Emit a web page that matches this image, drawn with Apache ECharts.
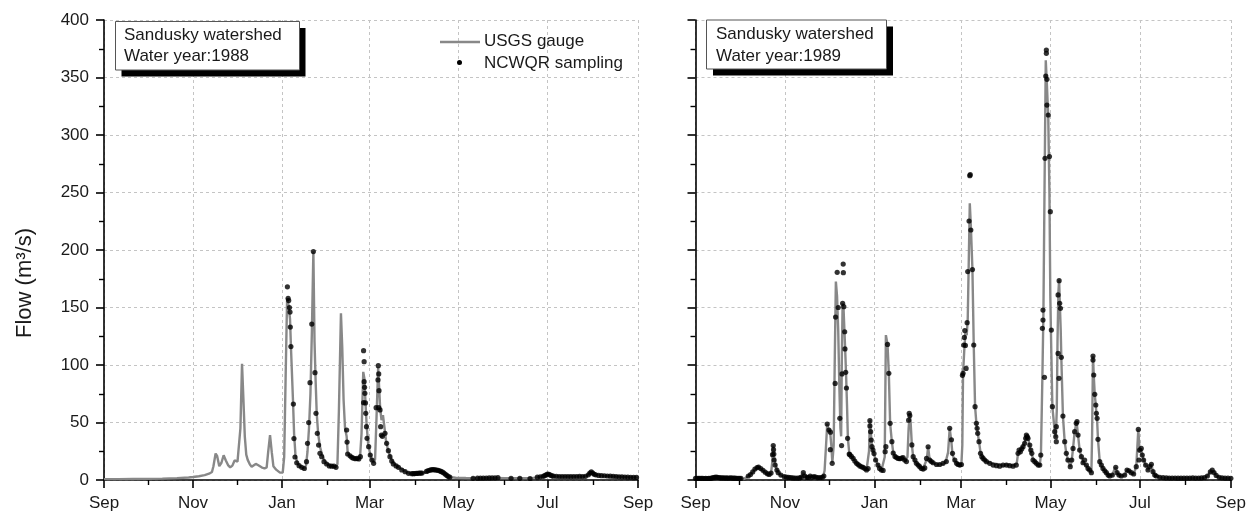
<!DOCTYPE html>
<html>
<head>
<meta charset="utf-8">
<script src="https://cdn.jsdelivr.net/npm/echarts@6/dist/echarts.min.js"></script>
<style>
html, body { margin: 0; padding: 0; background: #ffffff; }
#chart { width: 1249px; height: 512px; }
</style>
</head>
<body>
<div id="chart"></div>
<script>
// x values are days counted from 1 September of each water year
const monthLabels = ['Sep', 'Nov', 'Jan', 'Mar', 'May', 'Jul', 'Sep'];
const majorTicks1988 = [0, 61, 122, 182, 243, 304, 366];
const minorTicks1988 = [30, 91, 153, 213, 274, 335];
const majorTicks1989 = [0, 61, 122, 181, 242, 303, 365];
const minorTicks1989 = [30, 91, 153, 212, 273, 334];

// Water year 1988: USGS gauge daily flow (m3/s)
const gauge1988 = [
  [0,0.8],[10,0.8],[20,0.9],[30,1.0],[40,1.2],[50,1.6],[58,2.2],[61,2.6],[65,3.3],[69,4.2],[72,5.5],[74,7],[75,12],
  [76.5,23],[77.5,21],[79,12],[80.5,15],[82,21.5],[83.5,17],[85,13],[86.5,11],[88,12.5],[89.5,17],[90.5,18],[91.5,16],
  [92.5,17],[93.5,45],[94.6,101],[95.5,72],[96.5,38],[97.5,22],[98.5,17.5],[100,13.5],[101.2,11.6],[102.5,12],[104,14],
  [105.5,13],[108,11],[110,10],[111.5,11],[112.5,24],[113.8,39],[115,24],[116.1,12],[118,9],[120.6,6.4],[122.5,6.5],
  [123.5,20],[124.5,90],[125.5,158],[126.5,152],[127.5,140],[128.3,110],[129.5,70],[130.3,40],[131.2,22],[132.5,15],
  [134,12.5],[136,10.5],[137.5,10],[138.5,13],[139.5,25],[140.5,45],[141.5,75],[142.5,130],[143.5,199],[144.3,120],
  [145,88],[145.8,58],[146.8,40],[148,29],[149.5,22],[151,17],[153,14],[155,12.5],[157,12],[159,11.5],[160,14],[161,60],
  [162.4,145],[163.3,115],[164.2,70],[165.2,45],[166.3,38],[167,24],[168.5,21],[170,20],[172,19],[174,18],[175.5,20],
  [176.5,40],[177.7,94],[178.5,88],[179.2,68],[180,48],[181,32],[182.5,22],[183.7,17.5],[184.8,15],[185.8,18],[186.8,55],
  [187.9,98],[188.6,80],[189.3,62],[190.2,52],[191.2,56.5],[192.2,46],[193.2,35],[194.5,27],[196,21],[197.5,17],[199,14],
  [201,12],[203,10.5],[205,9],[207,7.2],[209,6],[211,5.5],[214,5.7],[218,6],[220,6.5],[222,8],[225,8.8],[229,8.6],[232,7],
  [234,5],[236,3],[238,2.4],[241,2],[248,1.7],[256,1.6],[265,1.7],[275,1.6],[285,1.6],[293,1.6],[298,2.5],[301,3.2],
  [303,4.5],[304.5,5.2],[306,4.2],[308,3.4],[312,3],[320,3],[328,3],[331,3.5],[332.5,5.5],[334,7.2],[335.5,5.5],[337,4.5],
  [342,3.8],[348,3.3],[355,2.8],[360,2.4],[366,2.1]
];

// Water year 1988: NCWQR sampling flow (m3/s)
const sampling1988 = [
  [125.7,168],[126.2,158],[126.6,156],[127.1,150],[127.5,146],[127.7,133],[128.1,116],[129.8,66],[130.2,36],[130.9,20],
  [132.1,15],[133.7,12.5],[135.5,11],[137.3,10],[138.8,15.9],[139.5,31.9],[140.3,49.9],[141.2,84.6],[142.4,135.6],
  [143.5,198.6],[144.6,93.3],[145.3,58],[146.2,40.6],[147.1,30.4],[148,23.2],[149.2,20.3],[150.8,15.9],[152.6,13.9],
  [154.4,12.2],[156,12],[157.6,12],[159,11],[166.3,43.5],[166.6,33],[167,22.6],[168.6,21],[169.8,19.7],[170.9,19],
  [172.3,18.5],[173.4,18.8],[174.6,18.3],[175.7,20.3],[177.9,112.5],[178.3,102.9],[178.3,85.5],[178.6,80.6],[178.8,75.4],
  [177.9,67.2],[179.2,67],[179.4,58],[179.9,46.4],[180.3,36.2],[181.4,29],[182.5,21.7],[183.7,17.4],[184.8,14.5],
  [186.5,62.9],[188,99.4],[188.3,92.2],[187.8,87],[188.5,77.7],[188.3,62.9],[189.2,60.9],[189.6,46.4],[190.1,39.1],
  [190.8,38],[192.6,40.6],[193.7,31.9],[194.9,25.5],[196,20.3],[197.2,16.5],[198.3,14],[200.2,12.2],[201.8,11],
  [204.1,8.7],[206.4,7.2],[208.7,5.8],[211,5.5],[212,5.5],[213,5.6],[214,5.7],[215,5.8],[216,5.9],[217,6],[218,6],
  [221,7.5],[222,8],[223,8.5],[224,8.8],[225,9],[226,9],[227,8.8],[228,8.6],[229,8.4],[230,8],[231,7.5],[232,6.8],
  [233,6],[234,5],[235,4],[236,3],[237,2.5],[253,1.5],[256,1.6],[258,1.6],[260,1.7],[262,1.7],[264,1.8],[266,1.8],
  [268,1.9],[270,2],[279,1.5],[285,1.5],[292,1.3],[297,2.5],[299,2.8],[301,3.2],[302,3.8],[303,4.5],[304,5.2],[305,5],
  [306,4.2],[307,3.6],[308,3.3],[310,3.2],[312,3],[314,3],[316,3],[318,3],[320,2.9],[322,3],[324,3],[326,3.1],[328,3],
  [330,3.2],[332,4.5],[333,6],[334,7],[335,6],[336,5],[337,4.5],[339,4],[341,3.8],[343,3.7],[345,3.5],[347,3.3],
  [349,3.2],[351,3],[353,2.8],[355,2.7],[357,2.6],[359,2.5],[361,2.4],[363,2.3],[365,2.2]
];

// Water year 1989: USGS gauge daily flow (m3/s)
const gauge1989 = [
  [0,1.5],[4,1.5],[8,1.3],[11,1.5],[13,2.2],[14.5,2.5],[17,1.9],[22,1.7],[27,1.6],[31,1.4],[33,1],[35,2.5],[37,4.5],
  [39.4,7.2],[41,9.8],[42.8,11.2],[44,10],[46,8],[48,6],[50,4.6],[51.5,6],[52.3,15],[53,29.9],[53.6,21],[54.4,14],
  [55.6,8.7],[57,5.5],[59,3.5],[61,2.6],[64,2],[68,1.6],[71,1.7],[72.5,3],[73.5,6.4],[74.5,3],[76,2],[78,3],[79,2.2],
  [80.5,3],[81.5,3.2],[82.5,2],[85,2],[87,3],[88,8],[89,30],[89.8,48.7],[90.7,44],[91.8,41.6],[92.6,30],[93.3,15],
  [94.2,30],[95,110],[95.7,172.5],[96.5,160],[97.3,130],[98.1,80],[98.8,45],[99.3,38],[99.8,110],[100.3,153.6],
  [100.9,150],[101.6,128],[102.2,108],[102.7,90],[103.3,65],[103.9,36],[104.8,24],[106,21],[107.5,18.8],[109.8,14.5],
  [112,12.2],[114.3,11],[116.6,8.7],[117.7,10],[118.3,25],[118.9,52.2],[119.5,42],[120.3,29],[121.5,23.5],[122.8,17.4],
  [124.4,13],[125.7,11.6],[127,9.5],[128.3,9],[129,20],[129.8,126],[130.9,118],[131.8,93],[132.7,49],[133.9,33],
  [134.8,24],[136,20.5],[137,18.8],[139.3,17.5],[140.5,19],[141.5,19],[143,16.5],[144.5,20],[145.3,45],[146.1,58],
  [146.6,52],[147.5,30.5],[148.4,20.3],[149.6,16],[150.6,14.5],[152.9,12],[155.2,10],[156.5,11],[157.7,18],[158.6,28.9],
  [159.4,20],[160.5,16],[162,15],[164.3,13.5],[166.5,13.5],[168.8,14],[170.5,15.5],[172.2,24],[173.3,44.9],[174.4,34],
  [175.2,22],[176.8,16.5],[179,14],[181.3,14],[181.9,30],[182.4,92],[183.2,112],[184,128],[184.9,126],[185.6,140],
  [186.3,190],[187,240.6],[187.7,222],[188.8,183],[189.7,117],[190.6,64],[191.5,49.3],[192.4,40.6],[193.3,33.3],
  [194.3,24],[196.1,18.8],[198.4,15.9],[202.9,14.5],[207.4,13.5],[210,12.5],[212,13.5],[216.5,12.5],[219,14.5],[219.9,23],
  [221.5,25],[223.3,29],[224.5,33],[225.6,39],[226.7,37],[227.9,29],[229,23],[230.1,18.5],[232.4,14.5],[234.7,13],
  [235.5,21.7],[236.5,90],[237.2,145],[238,260],[238.8,365],[239.6,343],[240.5,315],[241.3,250],[241.9,160],[242.6,110],
  [243.3,63.8],[244.9,42],[245.6,37],[246.3,60],[246.8,120],[247.4,163],[247.9,174],[248.4,153],[249,130],[249.4,106.7],
  [250.5,55.6],[251.7,33.3],[252.8,23.2],[253.9,17.4],[255.5,11.6],[256.5,17],[257.4,27.5],[258.5,42],[259.8,50.7],
  [260.8,39.1],[261.9,26],[263.1,20.3],[264.2,15],[265.3,15.5],[266.5,12.5],[267.6,10.1],[268.7,8.7],[269.9,6.4],
  [270.4,40],[271,107.8],[271.5,91.3],[272.2,74.5],[272.9,65.2],[273.3,58],[273.8,52],[274.4,35.4],[275.6,15.9],
  [276.7,12.5],[277.8,10],[279,8],[280.1,6.4],[281.3,4.3],[282.4,3.5],[284.2,4.3],[285.5,9],[286.5,11],[287.4,6.4],
  [288.7,4.3],[290.3,3.5],[292.6,4.3],[294.2,8.7],[295.5,8],[297.1,6.4],[298.7,5.2],[300.5,11.6],[301.9,44],[302.8,24],
  [303.9,27.5],[304.6,21.7],[305.5,17.4],[306.9,13],[308.5,8.7],[309.6,11.6],[310.8,13.6],[311.9,7.2],[313.1,4.3],
  [314.2,3.5],[316.5,2.3],[320,1.8],[326,1.7],[334,1.7],[342,1.7],[347,1.9],[349,3.5],[351,7],[352.3,8.7],[353.5,7],
  [355,4],[357,2.2],[361,1.7],[365,1.5]
];

// Water year 1989: NCWQR sampling flow (m3/s)
const sampling1989 = [
  [0,1.5],[1,1.5],[2,1.4],[3,1.4],[4,1.5],[5,1.4],[6,1.3],[7,1.4],[8,1.3],[9,1.4],[10,1.4],[11,1.6],[12,2],[13,2.3],
  [14,2.5],[15,2.3],[16,2],[17,1.9],[18,1.8],[19,1.8],[20,1.7],[21,1.8],[22,1.7],[23,1.7],[24,1.8],[25,1.7],[26,1.6],
  [27,1.6],[28,1.5],[29,1.5],[30,1.5],[31,1.4],
  [36,3.5],[37.5,4.8],[39,7],[40.5,9.5],[42,10.8],[43,11.3],[44.5,10],[46,8.5],[47.5,6.8],[49,5.5],[50.2,4.8],[51.5,6],
  [52.5,22],[53,29.9],[53.2,26.4],[53.4,22.6],[53.6,17.4],[54.3,13],[55.5,8.7],[56.4,6.4],[58.2,4.3],[60.5,2.9],[62,2.5],
  [63.5,2.2],[65,2],[66.5,1.8],[68,1.7],[69.5,1.7],[71,1.8],[72.2,2.5],[73.5,6.4],[74.5,3.5],[76,2.2],[77,2],[78.2,3.5],
  [79.5,2.3],[80.8,3],[82,2.6],[83.5,2.1],[85,2],[86.5,2.4],[87.5,3.5],
  [89.8,48.7],[91,43.5],[91.9,26.4],[92,41.6],[93.2,14.5],[95.2,84],[95.5,141.7],[96.6,180.6],[97.3,150],[98.4,53.6],
  [99.6,29.9],[99.9,92.2],[100.3,153.6],[100.7,187.8],[100.8,180.3],[101.1,150.7],[101.7,128.9],[101.9,114],[102.4,93.6],
  [102.9,80],[103.7,36.2],[104.8,22.6],[105.2,22],[106.3,20.5],[107.5,18.8],[108.6,16.5],[109.8,14.5],[110.9,13.5],
  [112,12.2],[113.2,11.5],[114.3,11],[115.4,10],[116.6,8.7],[117.7,10],
  [118.9,51.6],[118.9,47],[119.4,42],[119.8,34.8],[120.3,29],[121,26],[121.7,23],[122.8,17.4],[124.4,13],[125.5,10.1],
  [126.7,8.7],[127.9,8.3],[129.3,24.6],[129.8,29],[130.9,117.9],[131.8,92.8],[132.7,49.3],[133.9,33.3],[134.8,23.5],
  [136,20.5],[137,19.5],[138.2,18.8],[139.3,18.5],[140.5,19],[141.5,19.5],[142.6,17.4],[143.8,16],[145.3,52],[145.7,58],
  [146.1,56],[147.5,30.5],[148.4,20.3],[149.6,17.4],[150.6,14.5],[151.8,13],[152.9,11.6],[154,10],[155.2,9.5],[156.3,10.5],
  [157.5,18.8],[158.6,28.9],[159.7,17.4],[160.8,16],[162,15],[164.3,13.5],[166.5,13.5],[168.8,14.5],[171,16],[173.3,44.9],
  [174.5,35],[175.2,23.2],[176.8,17.4],[178,14.5],[179,13.5],[180.2,13],[181.3,13.5],
  [182,91],[182.4,92.8],[182.9,117.4],[183.3,124],[183.6,129.9],[184,117],[184.5,97],[185.2,136.8],[185.6,181.2],
  [186.5,225.2],[187,264.6],[187.3,265.5],[187.7,217.4],[188.8,183],[189.7,117.4],[190.6,63.8],[191.5,49.3],[192,45],
  [192.4,40.6],[193.3,33.3],[194.3,23.2],[195.2,20.3],[196.1,18.8],[197.2,17.4],[198.4,15.9],[200.6,14.5],[202.9,13],
  [205.2,12.5],[207.4,12],[209.7,13],[212,13],[214.2,12.5],[216.5,12],[218.7,13],[219.9,23.2],[220.6,26],[221.5,24.5],
  [222.4,27],[223.3,29],[224.4,31.9],[225.1,36.2],[225.6,39.1],[226.2,37.7],[226.7,36.2],[227.9,30.4],[228.6,26],
  [229.3,23.2],[230.1,17.4],[231.3,15.9],[232.4,14.5],[233.6,13],[234.7,13],[235.4,21.7],
  [236.5,131.9],[236.9,139.1],[236.9,147.8],[237.9,89.3],[238.3,279.7],[238.8,351.3],[239.2,373.9],[239.2,371],
  [239.6,348.4],[239.6,326],[240.5,317.4],[241.3,281.2],[241.9,233.3],[242.6,130.4],[243.3,63.8],[244.9,42],[245.6,37.7],
  [246,33.3],[246,46.4],[247.2,160.9],[247.2,110.1],[247.8,88.4],[247.9,173.3],[248.3,153.6],[248.8,149.3],[249.4,106.7],
  [250.5,55.6],[251.7,33.3],[252.8,23.2],[253.9,17.4],[255.5,11.6],[256.5,17.4],[257.4,27.5],[258.5,42],[259.6,49.3],
  [260.1,50.7],[260.8,39.1],[261.9,26],[263.1,20.3],[264.2,15],[265.3,17.4],[266.5,13],[267.6,10.1],[268.7,8.7],[269.9,6.4],
  [271,107.8],[271,104.3],[271.5,91.3],[272.2,74.5],[272.9,65.2],[273.3,58],[273.8,53.6],[274.4,35.4],[275.6,15.9],
  [276.7,13],[277.8,10.1],[279,8],[280.1,6.4],[281.3,4.3],[282.4,3.5],[284.2,4.3],[286.5,11],[287.4,6.4],[288.7,4.3],
  [290.3,3.5],[292.6,4.3],[294.2,8.7],[295.5,8],[297.1,6.4],[298.7,5.2],[300.5,11.6],[301.9,44],[302.3,17.4],[302.8,26],
  [303.9,27.5],[304.6,21.7],[305.5,17.4],[306.9,13],[308.5,8.7],[309.6,11.6],[310.8,13.6],[311.9,7.2],[313.1,4.3],
  [314.2,3.5],[316.5,2.3],[318.8,2],[321,1.8],[323,1.7],[325,1.7],[327,1.7],[329,1.6],[331,1.6],[333,1.7],[335,1.7],
  [337,1.7],[339,1.8],[341,1.7],[343,1.7],[345,1.8],[347,2],[349,3.5],[351,7],[352.3,8.7],[353.5,6.5],[355,4],[357,2.3],
  [359,1.8],[361,1.7],[363,1.6],[365,1.5]
];

const FONT = '"Liberation Sans", Arial, sans-serif';
const TEXT_COLOR = '#1a1a1a';
const GRID_LINE = { show: true, lineStyle: { color: '#c4c4c4', type: [3, 3], width: 1 } };

function monthAxis(gridIndex, majors, maxDay) {
  return {
    type: 'value', gridIndex: gridIndex, position: 'bottom', min: 0, max: maxDay,
    axisLine: { show: true, onZero: false, lineStyle: { color: '#000', width: 1.6 } },
    axisTick: { show: true, customValues: majors, length: 8, lineStyle: { color: '#000', width: 1.6 } },
    axisLabel: {
      show: true, customValues: majors, margin: 15, fontSize: 17, fontFamily: FONT, color: TEXT_COLOR,
      formatter: function (v) { return monthLabels[majors.indexOf(v)]; }
    },
    splitLine: GRID_LINE
  };
}

function minorMonthAxis(gridIndex, minors, maxDay) {
  return {
    type: 'value', gridIndex: gridIndex, position: 'bottom', min: 0, max: maxDay,
    axisLine: { show: false },
    axisTick: { show: true, customValues: minors, length: 5, lineStyle: { color: '#000', width: 1.4 } },
    axisLabel: { show: false },
    splitLine: { show: false }
  };
}

function flowAxis(gridIndex, withLabels) {
  return {
    type: 'value', gridIndex: gridIndex, min: 0, max: 400, interval: 50,
    axisLine: { show: true, lineStyle: { color: '#000', width: 1.6 } },
    axisTick: { show: true, length: 8, lineStyle: { color: '#000', width: 1.6 } },
    minorTick: { show: true, splitNumber: 2, length: 5, lineStyle: { color: '#000', width: 1.4 } },
    axisLabel: { show: withLabels, margin: 15, fontSize: 17, fontFamily: FONT, color: TEXT_COLOR },
    splitLine: GRID_LINE
  };
}

const lineStyle = { color: '#888888', width: 2.4 };
const dotStyle = { color: '#000' };

const chart = echarts.init(document.getElementById('chart'), null, { renderer: 'canvas' });

chart.setOption({
  backgroundColor: '#ffffff',
  animation: false,
  grid: [
    { left: 104, top: 20, width: 534, height: 460 },
    { left: 695.5, top: 20, width: 536, height: 460 }
  ],
  xAxis: [
    monthAxis(0, majorTicks1988, 366),
    minorMonthAxis(0, minorTicks1988, 366),
    monthAxis(1, majorTicks1989, 365),
    minorMonthAxis(1, minorTicks1989, 365)
  ],
  yAxis: [flowAxis(0, true), flowAxis(1, false)],
  series: [
    { name: 'USGS gauge', type: 'line', xAxisIndex: 0, yAxisIndex: 0, data: gauge1988,
      showSymbol: false, lineStyle: lineStyle, z: 2 },
    { name: 'NCWQR sampling', type: 'scatter', xAxisIndex: 0, yAxisIndex: 0, data: sampling1988,
      symbol: 'circle', symbolSize: 5.2, itemStyle: dotStyle, z: 3 },
    { name: 'USGS gauge', type: 'line', xAxisIndex: 2, yAxisIndex: 1, data: gauge1989,
      showSymbol: false, lineStyle: lineStyle, z: 2 },
    { name: 'NCWQR sampling', type: 'scatter', xAxisIndex: 2, yAxisIndex: 1, data: sampling1989,
      symbol: 'circle', symbolSize: 5.2, itemStyle: dotStyle, z: 3 }
  ],
  graphic: [
    // y-axis title
    { type: 'text', x: 25, y: 283, rotation: Math.PI / 2,
      style: { text: 'Flow (m\u00B3/s)', font: '22px ' + FONT, fill: TEXT_COLOR, align: 'center', verticalAlign: 'middle' } },

    // 1988 caption box with drop shadow
    { type: 'rect', shape: { x: 121.5, y: 28, width: 184, height: 48.5 }, style: { fill: '#000' }, z: 100 },
    { type: 'rect', shape: { x: 115.5, y: 21.5, width: 184, height: 48.5 },
      style: { fill: '#fff', stroke: '#555', lineWidth: 1 }, z: 101 },
    { type: 'text', x: 124, y: 35, z: 102,
      style: { text: 'Sandusky watershed', font: '17px ' + FONT, fill: TEXT_COLOR, verticalAlign: 'middle' } },
    { type: 'text', x: 124, y: 56.5, z: 102,
      style: { text: 'Water year:1988', font: '17px ' + FONT, fill: TEXT_COLOR, verticalAlign: 'middle' } },

    // 1989 caption box with drop shadow
    { type: 'rect', shape: { x: 713, y: 26.5, width: 180, height: 49 }, style: { fill: '#000' }, z: 100 },
    { type: 'rect', shape: { x: 706.5, y: 20, width: 180, height: 49 },
      style: { fill: '#fff', stroke: '#555', lineWidth: 1 }, z: 101 },
    { type: 'text', x: 716, y: 34.5, z: 102,
      style: { text: 'Sandusky watershed', font: '17px ' + FONT, fill: TEXT_COLOR, verticalAlign: 'middle' } },
    { type: 'text', x: 716, y: 56, z: 102,
      style: { text: 'Water year:1989', font: '17px ' + FONT, fill: TEXT_COLOR, verticalAlign: 'middle' } },

    // legend
    { type: 'line', shape: { x1: 440, y1: 42, x2: 480, y2: 42 }, style: { stroke: '#888888', lineWidth: 2.4 }, z: 100 },
    { type: 'text', x: 484, y: 41.5, z: 100,
      style: { text: 'USGS gauge', font: '17px ' + FONT, fill: TEXT_COLOR, verticalAlign: 'middle' } },
    { type: 'circle', shape: { cx: 459.5, cy: 62.5, r: 2.5 }, style: { fill: '#000' }, z: 100 },
    { type: 'text', x: 484, y: 63.3, z: 100,
      style: { text: 'NCWQR sampling', font: '17px ' + FONT, fill: TEXT_COLOR, verticalAlign: 'middle' } }
  ]
});
</script>
</body>
</html>
